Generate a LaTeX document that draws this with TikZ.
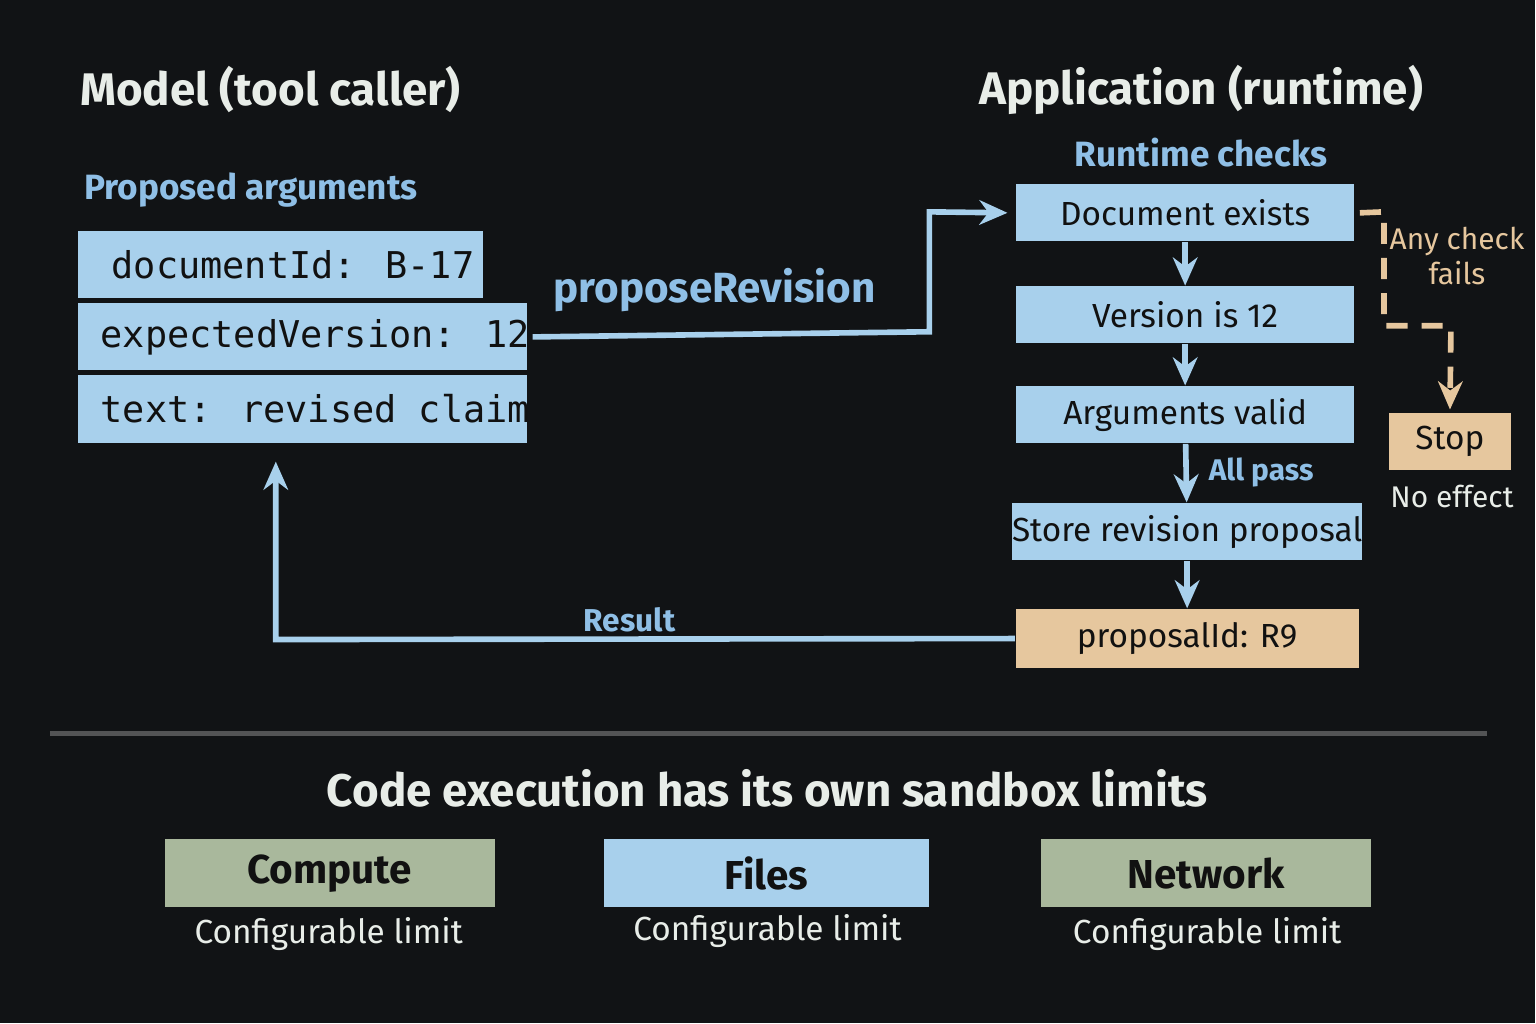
\documentclass[tikz,border=0pt]{standalone}
\usepackage{fontspec}
\setmainfont{Fira Sans}
\newfontfamily\monofont{DejaVu Sans Mono}
\usetikzlibrary{positioning}
\usetikzlibrary{arrows.meta}
\definecolor{bg}{HTML}{111315}
\definecolor{boxblue}{HTML}{A8D0EC}
\definecolor{txtblue}{HTML}{8FBFE6}
\definecolor{tan}{HTML}{E6C79E}
\definecolor{sage}{HTML}{A9B89C}
\definecolor{ink}{HTML}{111111}
\definecolor{title}{HTML}{E8EDE8}
\begin{document}
\begin{tikzpicture}[x=0.01cm, y=-0.01cm, >={Stealth[length=8pt,width=7pt]}, font=\sffamily]
		\tikzstyle{arg}=[fill=boxblue,draw=bg,line width=1.5pt,minimum width=4.1cm,minimum height=0.73cm,inner sep=0pt,anchor=north west,text=ink,font=\monofont\fontsize{10.5}{12}\selectfont]
		\tikzstyle{check}=[fill=boxblue,minimum width=3.38cm,minimum height=0.57cm,inner sep=0pt,text=ink,font=\fontsize{9.5}{11}\selectfont]
		\tikzstyle{limit}=[minimum width=3.3cm,minimum height=0.68cm,inner sep=0pt,text=ink,font=\bfseries\fontsize{11.5}{13}\selectfont]
		\tikzstyle{head}=[text=title,font=\bfseries\fontsize{13}{15}\selectfont]
		\tikzstyle{sub}=[text=txtblue,font=\bfseries\fontsize{10}{12}\selectfont]
		\tikzstyle{note}=[text=title,font=\fontsize{8.5}{10}\selectfont,align=center]
		\tikzstyle{flow}=[->,draw=boxblue,line width=1.6pt]

		\fill[bg] (0,0) rectangle (1536,1024);

		% model side
		\node[head,anchor=west] (model) at (68,90) {Model (tool caller)};
		\node[sub,anchor=west] (proposed) at (72,190) {Proposed arguments};
		\node[arg] (docid) at (73,226) {\hspace{0.25cm}documentId: B-17\hfill};
		\node[arg] (version) at (73,298) {\hspace{0.25cm}expectedVersion: 12\hfill};
		\node[arg] (text) at (73,370) {\hspace{0.25cm}text: revised claim\hfill};
		\node[sub,font=\bfseries\fontsize{12}{14}\selectfont] (call) at (715,290) {proposeRevision};

		% application side
		\node[head] (app) at (1202,90) {Application (runtime)};
		\node[sub] (runtime) at (1202,153) {Runtime checks};
		\node[check] (exists) at (1186,213) {Document exists};
		\node[check] (vcheck) at (1186,315) {Version is 12};
		\node[check] (valid) at (1186,415) {Arguments valid};
		\node[check,minimum width=3.45cm] (store) at (1188,532) {Store revision proposal};
		\node[check,fill=tan,minimum width=3.43cm,minimum height=0.59cm] (result) at (1188,639) {proposalId: R9};
		\node[check,fill=tan,minimum width=1.22cm] (stop) at (1451,442) {Stop};
		\node[note] (noeffect) at (1453,497) {No effect};
		\node[note,text=tan] (fails) at (1458,256) {Any check\\fails};
		\node[sub,font=\bfseries\fontsize{8.5}{10}\selectfont] (allpass) at (1262,473) {All pass};
		\node[sub,font=\bfseries\fontsize{9}{11}\selectfont] (resultlbl) at (630,620) {Result};

		\draw[flow] (version.east) -- (930,332) -- (930,212) -- ([xshift=-0.08cm]exists.west);
		\draw[flow] (exists) -- (vcheck);
		\draw[flow] (vcheck) -- (valid);
		\draw[flow] (valid) -- (store);
		\draw[flow] (store) -- (result);
		\draw[flow] (result.west) -- (276,640) -- (276,462);
		\draw[->,draw=tan,line width=1.6pt,dash pattern=on 6pt off 4pt] ([xshift=0.05cm]exists.east) -- (1385,212) -- (1385,326) -- (1452,326) -- ([yshift=0.03cm]stop.north);

		% sandbox limits
		\draw[draw=gray!60!bg,line width=1.2pt] (50,734) -- (1488,734);
		\node[head] (sandbox) at (768,789) {Code execution has its own sandbox limits};
		\node[limit,fill=sage] (compute) at (330,874) {Compute};
		\node[limit,fill=boxblue,minimum width=3.25cm] (files) at (767,874) {Files};
		\node[limit,fill=sage] (network) at (1207,874) {Network};
		\node[note,font=\fontsize{9.5}{11}\selectfont] at (329,935) {Configurable limit};
		\node[note,font=\fontsize{9.5}{11}\selectfont] at (768,932) {Configurable limit};
		\node[note,font=\fontsize{9.5}{11}\selectfont] at (1208,935) {Configurable limit};
\end{tikzpicture}
\end{document}
